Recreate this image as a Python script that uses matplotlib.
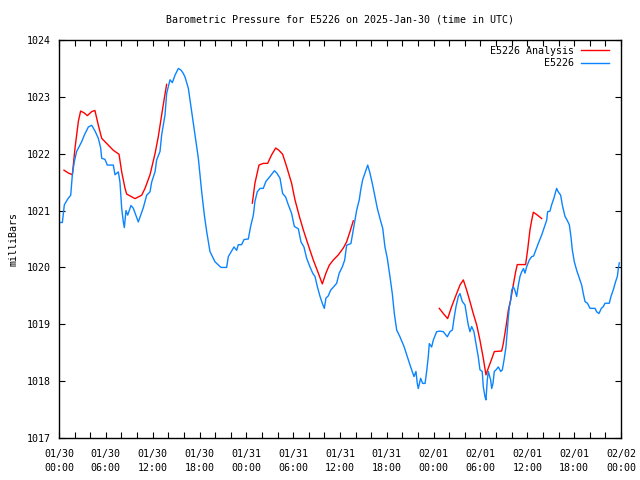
import numpy as np
import matplotlib
matplotlib.use('Agg')
import matplotlib.pyplot as plt
from matplotlib.ticker import MultipleLocator

TITLE = 'Barometric Pressure for E5226 on 2025-Jan-30 (time in UTC)'
Y_LABEL = 'milliBars'
OBS_LABEL = 'E5226'
ANALYSIS_LABEL = 'E5226 Analysis'

# hours since 2025-01-30 00:00 UTC
obs_hours = [
    0.13, 0.43, 0.68, 1.1, 1.5, 1.71, 1.96, 2.26, 2.9, 3.25, 3.76, 4.19, 4.61,
    5.04, 5.34, 5.47, 5.89, 6.19, 6.96, 7.17, 7.6, 7.81, 8.03, 8.24, 8.37, 8.58,
    8.8, 9.22, 9.52, 10.16, 10.8, 11.23, 11.66, 11.87, 12.3, 12.51, 12.94, 13.15,
    13.58, 13.79, 14.22, 14.52, 14.86, 15.29, 15.63, 15.93, 16.14, 16.57, 17.0,
    17.42, 17.85, 18.28, 18.62, 18.92, 19.34, 19.98, 20.75, 21.48, 21.69, 22.42,
    22.76, 22.97, 23.4, 23.7, 24.25, 24.55, 24.9, 25.1, 25.4, 25.75, 26.17, 26.5,
    27.03, 27.59, 27.9, 28.31, 28.65, 29.03, 29.38, 29.8, 30.15, 30.66, 31.0,
    31.38, 31.73, 32.15, 32.5, 32.8, 33.1, 33.44, 33.73, 33.99, 34.2, 34.5, 34.8,
    35.2, 35.57, 35.9, 36.3, 36.6, 36.85, 37.4, 37.7, 38.14, 38.47, 38.65, 38.9,
    39.2, 39.55, 39.84, 40.18, 40.48, 40.78, 41.12, 41.47, 41.76, 42.06, 42.4,
    42.7, 42.96, 43.26, 43.68, 44.2, 44.62, 45.05, 45.48, 45.73, 45.9, 46.03,
    46.33, 46.59, 46.9, 47.1, 47.31, 47.44, 47.74, 47.95, 48.38, 48.8, 49.23,
    49.75, 50.09, 50.4, 50.64, 50.86, 51.16, 51.37, 51.67, 52.01, 52.23, 52.43,
    52.65, 52.87, 53.16, 53.42, 53.71, 53.93, 54.22, 54.36, 54.57, 54.7, 54.87,
    55.0, 55.3, 55.43, 55.6, 55.77, 56.0, 56.28, 56.6, 56.8, 57.05, 57.27, 57.44,
    57.57, 57.7, 57.87, 58.0, 58.2, 58.4, 58.63, 58.85, 59.06, 59.27, 59.5, 59.7,
    59.91, 60.25, 60.56, 60.8, 61.1, 61.4, 61.84, 62.13, 62.48, 62.6, 62.9,
    63.11, 63.41, 63.75, 63.96, 64.27, 64.48, 64.82, 65.1, 65.38, 65.59, 65.76,
    66.02, 66.32, 66.66, 66.96, 67.17, 67.39, 67.7, 68.04, 68.68, 68.88, 69.18,
    69.48, 69.73, 69.95, 70.5, 70.72, 71.0, 71.31, 71.53, 71.66, 71.78]
obs_mb = [
    1020.79, 1020.79, 1021.1, 1021.2, 1021.27, 1021.63, 1021.86, 1022.04,
    1022.21, 1022.33, 1022.47, 1022.5, 1022.4, 1022.27, 1022.1, 1021.92, 1021.9,
    1021.8, 1021.8, 1021.63, 1021.68, 1021.5, 1021.04, 1020.8, 1020.7, 1021.0,
    1020.92, 1021.09, 1021.04, 1020.8, 1021.05, 1021.27, 1021.33, 1021.5,
    1021.68, 1021.89, 1022.04, 1022.33, 1022.68, 1023.06, 1023.3, 1023.25,
    1023.38, 1023.5, 1023.47, 1023.41, 1023.35, 1023.15, 1022.74, 1022.33,
    1021.92, 1021.33, 1020.92, 1020.63, 1020.28, 1020.1, 1020.0, 1020.0,
    1020.19, 1020.36, 1020.3, 1020.4, 1020.4, 1020.49, 1020.5, 1020.72, 1020.92,
    1021.16, 1021.33, 1021.39, 1021.39, 1021.51, 1021.6, 1021.7, 1021.66,
    1021.57, 1021.3, 1021.24, 1021.1, 1020.95, 1020.72, 1020.68, 1020.45,
    1020.36, 1020.16, 1020.01, 1019.9, 1019.84, 1019.66, 1019.49, 1019.37,
    1019.28, 1019.46, 1019.5, 1019.6, 1019.66, 1019.72, 1019.9, 1020.01,
    1020.13, 1020.39, 1020.42, 1020.66, 1021.01, 1021.19, 1021.36, 1021.54,
    1021.66, 1021.8, 1021.66, 1021.45, 1021.24, 1021.04, 1020.86, 1020.69,
    1020.36, 1020.16, 1019.84, 1019.54, 1019.19, 1018.9, 1018.78, 1018.61,
    1018.43, 1018.25, 1018.08, 1018.17, 1017.96, 1017.87, 1018.05, 1017.96,
    1017.96, 1018.17, 1018.43, 1018.66, 1018.6, 1018.72, 1018.87, 1018.88,
    1018.87, 1018.78, 1018.87, 1018.9, 1019.13, 1019.31, 1019.49, 1019.54,
    1019.4, 1019.34, 1019.16, 1018.99, 1018.87, 1018.96, 1018.87, 1018.66,
    1018.43, 1018.2, 1018.17, 1017.9, 1017.73, 1017.67, 1018.02, 1018.17,
    1018.02, 1017.87, 1017.96, 1018.17, 1018.2, 1018.25, 1018.17, 1018.2,
    1018.4, 1018.61, 1018.9, 1019.13, 1019.31, 1019.43, 1019.6, 1019.66,
    1019.6, 1019.49, 1019.69, 1019.84, 1019.92, 1019.98, 1019.9, 1020.01,
    1020.13, 1020.19, 1020.2, 1020.31, 1020.42, 1020.57, 1020.69, 1020.83,
    1020.98, 1020.99, 1021.1, 1021.22, 1021.39, 1021.33, 1021.27, 1021.1,
    1020.9, 1020.83, 1020.75, 1020.54, 1020.31, 1020.1, 1019.95, 1019.81,
    1019.69, 1019.54, 1019.4, 1019.37, 1019.28, 1019.28, 1019.22, 1019.19,
    1019.28, 1019.31, 1019.37, 1019.37, 1019.49, 1019.6, 1019.75, 1019.84,
    1019.98, 1020.08]

# analysis comes in three runs, nan marks the gaps
ana_hours = [
    0.64, 1.2, 1.71, 2.05, 2.48, 2.77, 3.2, 3.63, 4.19, 4.6, 5.04, 5.47, 5.9,
    6.32, 6.96, 7.69, 8.03, 8.46, 8.67, 9.74, 10.59, 11.02, 11.66, 12.3, 12.72,
    13.15, 13.45, 13.79, np.nan,
    24.77, 25.1, 25.62, 26.17, 26.73, 27.24, 27.76, 28.18, 28.65, 29.17, 29.8,
    30.23, 30.79, 31.3, 31.94, 32.58, 33.22, 33.73, 34.2, 34.63, 35.14, 35.78,
    36.42, 36.85, 37.28, 37.7, np.nan,
    48.72, 49.23, 49.79, 50.3, 50.86, 51.37, 51.8, 52.23, 52.65, 53.07, 53.51,
    53.93, 54.36, 54.7, 55.0, 55.3, 55.77, 56.71, 56.92, 57.27, 57.57, 57.87,
    58.2, 58.5, 58.71, 59.78, 60.04, 60.34, 60.56, 60.77, 61.2, 61.84]
ana_mb = [
    1021.71, 1021.66, 1021.63, 1022.1, 1022.57, 1022.75, 1022.72, 1022.67,
    1022.74, 1022.76, 1022.5, 1022.27, 1022.21, 1022.15, 1022.06, 1021.99,
    1021.68, 1021.39, 1021.29, 1021.21, 1021.27, 1021.39, 1021.63, 1022.0,
    1022.3, 1022.68, 1022.94, 1023.22, np.nan,
    1021.13, 1021.48, 1021.8, 1021.83, 1021.83, 1021.98, 1022.1, 1022.06,
    1021.99, 1021.77, 1021.48, 1021.19, 1020.9, 1020.66, 1020.39, 1020.13,
    1019.9, 1019.71, 1019.9, 1020.04, 1020.13, 1020.22, 1020.34, 1020.45,
    1020.63, 1020.82, np.nan,
    1019.28, 1019.19, 1019.1, 1019.31, 1019.51, 1019.69, 1019.78, 1019.6,
    1019.4, 1019.19, 1018.99, 1018.72, 1018.4, 1018.11, 1018.23, 1018.34,
    1018.52, 1018.53, 1018.66, 1018.96, 1019.25, 1019.43, 1019.69, 1019.92,
    1020.05, 1020.05, 1020.31, 1020.66, 1020.83, 1020.97, 1020.93, 1020.86]

tick_hours = [0, 6, 12, 18, 24, 30, 36, 42, 48, 54, 60, 66, 72]
tick_labels = ['01/30\n00:00', '01/30\n06:00', '01/30\n12:00', '01/30\n18:00',
               '01/31\n00:00', '01/31\n06:00', '01/31\n12:00', '01/31\n18:00',
               '02/01\n00:00', '02/01\n06:00', '02/01\n12:00', '02/01\n18:00',
               '02/02\n00:00']
y_ticks = [1017, 1018, 1019, 1020, 1021, 1022, 1023, 1024]


def plot_pressure(plot_name):
    plt.rcParams['font.family'] = 'DejaVu Sans Mono'
    plt.rcParams['font.size'] = 7.2
    fig = plt.figure(figsize=(6.4, 4.8), dpi=100)
    ax = fig.add_axes([0.0922, 0.0875, 0.8781, 0.8292])
    ax.plot(ana_hours, ana_mb, color='#ff0000', lw=1.0, label=ANALYSIS_LABEL)
    ax.plot(obs_hours, obs_mb, color='#0a84ff', lw=1.0, label=OBS_LABEL)
    ax.set_xlim(0, 72)
    ax.set_ylim(1017, 1024)
    ax.set_xticks(tick_hours)
    ax.set_xticklabels(tick_labels, linespacing=1.5)
    ax.xaxis.set_minor_locator(MultipleLocator(2))
    ax.set_yticks(y_ticks)
    ax.tick_params(which='both', direction='in', top=True, right=True,
                   length=4, width=0.8, color='black')
    ax.tick_params(axis='x', which='major', pad=8)
    ax.tick_params(axis='y', which='major', pad=6)
    for spine in ax.spines.values():
        spine.set_linewidth(1.0)
    ax.set_ylabel(Y_LABEL, labelpad=6)
    # gnuplot centres the title over the plot area, not the page
    fig.text(0.531, 0.96, TITLE, ha='center', va='center')
    ax.legend(loc='upper right', bbox_to_anchor=(0.9858, 0.995),
              frameon=False, markerfirst=False, handlelength=2.8,
              handletextpad=0.7, borderaxespad=0.0, labelspacing=0.25)
    fig.savefig(plot_name, dpi=100)
    plt.close(fig)


def main():
    plot_pressure('out.png')


if __name__ == '__main__':
    main()
